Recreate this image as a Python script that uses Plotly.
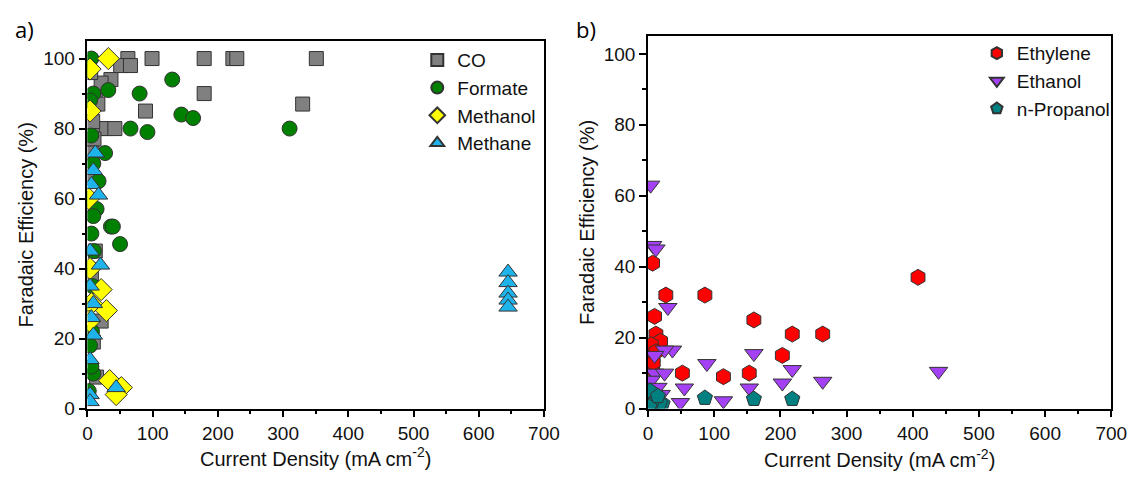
import plotly.graph_objects as go

# ---- Panel a) : C1 products ----
co_j = [62, 99, 179, 223, 229, 351, 51, 66, 179, 330, 36, 21, 89, 19, 29, 42, 12, 16, 5, 3, 8, 10, 7, 5, 21, 14, 12, 9, 4, 6]
co_fe = [100, 100, 100, 100, 100, 100, 98, 98, 90, 87, 94, 93, 85, 80, 80, 80, 88, 87, 96, 99, 82, 77, 73, 66, 25, 9, 45, 19, 56, 38]

formate_j = [6, 130, 9, 32, 80, 144, 162, 66, 92, 6, 27, 9, 17, 14, 9, 36, 6, 39, 50, 9, 310, 2, 4, 3, 5, 3, 7, 4, 6, 2, 8, 10]
formate_fe = [100, 94, 90, 91, 90, 84, 83, 80, 79, 78, 73, 70, 65, 57, 55, 52, 50, 52, 47, 10, 80, 97, 88, 60, 40, 30, 22, 18, 12, 5, 35, 45]

methanol_j = [32, 4, 4, 21, 29, 34, 52, 44, 4, 6, 3, 2]
methanol_fe = [100, 97, 85, 34, 28, 8, 6, 4, 40, 30, 25, 60]

methane_j = [12, 9, 6, 17, 4, 20, 4, 9, 6, 9, 4, 44, 4, 4, 645, 645, 645, 645, 645]
methane_fe = [73, 68, 64, 61, 45, 41, 35, 30, 26, 21, 14, 6, 4, 2, 39, 36, 33, 31, 29]

# ---- Panel b) : C2+ products ----
ethylene_j = [408, 7, 27, 86, 160, 10, 12, 19, 7, 52, 114, 153, 7, 218, 264, 203, 5, 12, 8]
ethylene_fe = [37, 41, 32, 32, 25, 26, 21, 19, 15, 10, 9, 10, 11, 21, 21, 15, 18, 16, 13]

ethanol_j = [439, 4, 7, 12, 30, 37, 25, 89, 160, 55, 49, 114, 153, 10, 10, 25, 218, 203, 264, 5, 15, 20]
ethanol_fe = [10.5, 63, 46, 45, 28.5, 16.5, 16.5, 12.7, 15.5, 5.8, 1.7, 2.2, 5.8, 15, 10, 10, 11, 7.2, 7.7, 8, 6, 4]

propanol_j = [86, 160, 7, 22, 218, 3, 12, 18, 5, 2, 15]
propanol_fe = [3, 2.7, 4.4, 1.4, 2.7, 5, 2, 1.5, 1, 0.5, 3.5]

x_ticks = [0, 100, 200, 300, 400, 500, 600, 700]
y_ticks = [0, 20, 40, 60, 80, 100]

FONT = "Liberation Sans, Arial, sans-serif"

fig = go.Figure()

def add(x, y, name, symbol, color, size, xa, ya, legend):
    fig.add_trace(go.Scatter(
        x=x, y=y, mode="markers", name=name,
        xaxis=xa, yaxis=ya, legend=legend,
        marker=dict(symbol=symbol, color=color, size=size,
                    line=dict(color="#333333", width=1)),
    ))

add(co_j, co_fe, "CO", "square", "#808080", 14, "x", "y", "legend")
add(formate_j, formate_fe, "Formate", "circle", "#008000", 15, "x", "y", "legend")
add(methanol_j, methanol_fe, "Methanol", "diamond", "#FFFF00", 17, "x", "y", "legend")
add(methane_j, methane_fe, "Methane", "triangle-up", "#1EB4EB", 16, "x", "y", "legend")

add(ethylene_j, ethylene_fe, "Ethylene", "hexagon", "#FF0000", 16, "x2", "y2", "legend2")
add(ethanol_j, ethanol_fe, "Ethanol", "triangle-down", "#A541F5", 16, "x2", "y2", "legend2")
add(propanol_j, propanol_fe, "n-Propanol", "pentagon", "#008080", 16, "x2", "y2", "legend2")

W, H = 1144, 489

def xax(domain, anchor, standoff):
    return dict(
        domain=domain, anchor=anchor, range=[0, 700],
        tickvals=x_ticks, ticks="outside", ticklen=7, tickwidth=1.5,
        tickcolor="black", showline=True, linecolor="black", linewidth=1.5,
        mirror=True, showgrid=False, zeroline=False,
        minor=dict(dtick=50, tick0=0, ticks="outside", ticklen=4, tickcolor="black", tickwidth=1.5),
        tickfont=dict(size=19, color="#111", family=FONT),
        title=dict(text="Current Density (mA cm<sup>-2</sup>)", font=dict(size=20, color="#111", family=FONT), standoff=standoff),
    )

def yax(domain, anchor):
    return dict(
        domain=domain, anchor=anchor, range=[0, 105],
        tickvals=y_ticks, ticks="outside", ticklen=7, tickwidth=1.5,
        tickcolor="black", showline=True, linecolor="black", linewidth=1.5,
        mirror=True, showgrid=False, zeroline=False,
        minor=dict(dtick=10, tick0=0, ticks="outside", ticklen=4, tickcolor="black", tickwidth=1.5),
        tickfont=dict(size=19, color="#111", family=FONT),
        title=dict(text="Faradaic Efficiency (%)", font=dict(size=20, color="#111", family=FONT), standoff=4),
    )

legend_font = dict(size=19, color="#111", family=FONT)

fig.update_layout(
    width=W, height=H,
    margin=dict(l=0, r=0, t=0, b=0),
    paper_bgcolor="white", plot_bgcolor="white",
    xaxis=xax([84 / W, 549 / W], "y", 0),
    yaxis=yax([1 - 418 / H, 1 - 42 / H], "x"),
    xaxis2=xax([655 / W, 1127 / W], "y2", 10),
    yaxis2=yax([1 - 418 / H, 1 - 37 / H], "x2"),
    legend=dict(x=420 / W, y=1 - 42 / H, xanchor="left", yanchor="top",
                bgcolor="rgba(0,0,0,0)", font=legend_font,
                tracegroupgap=0, itemsizing="constant"),
    legend2=dict(x=990 / W, y=1 - 35 / H, xanchor="left", yanchor="top",
                 bgcolor="rgba(0,0,0,0)", font=legend_font,
                 tracegroupgap=0, itemsizing="constant"),
    annotations=[
        dict(text="a)", x=8 / W, y=1 - 30 / H, xref="paper", yref="paper",
             xanchor="left", yanchor="middle", showarrow=False,
             font=dict(size=22, color="black", family="Open Sans, sans-serif")),
        dict(text="b)", x=580 / W, y=1 - 30 / H, xref="paper", yref="paper",
             xanchor="left", yanchor="middle", showarrow=False,
             font=dict(size=22, color="black", family="Open Sans, sans-serif")),
    ],
)

fig.write_html("out.html")
